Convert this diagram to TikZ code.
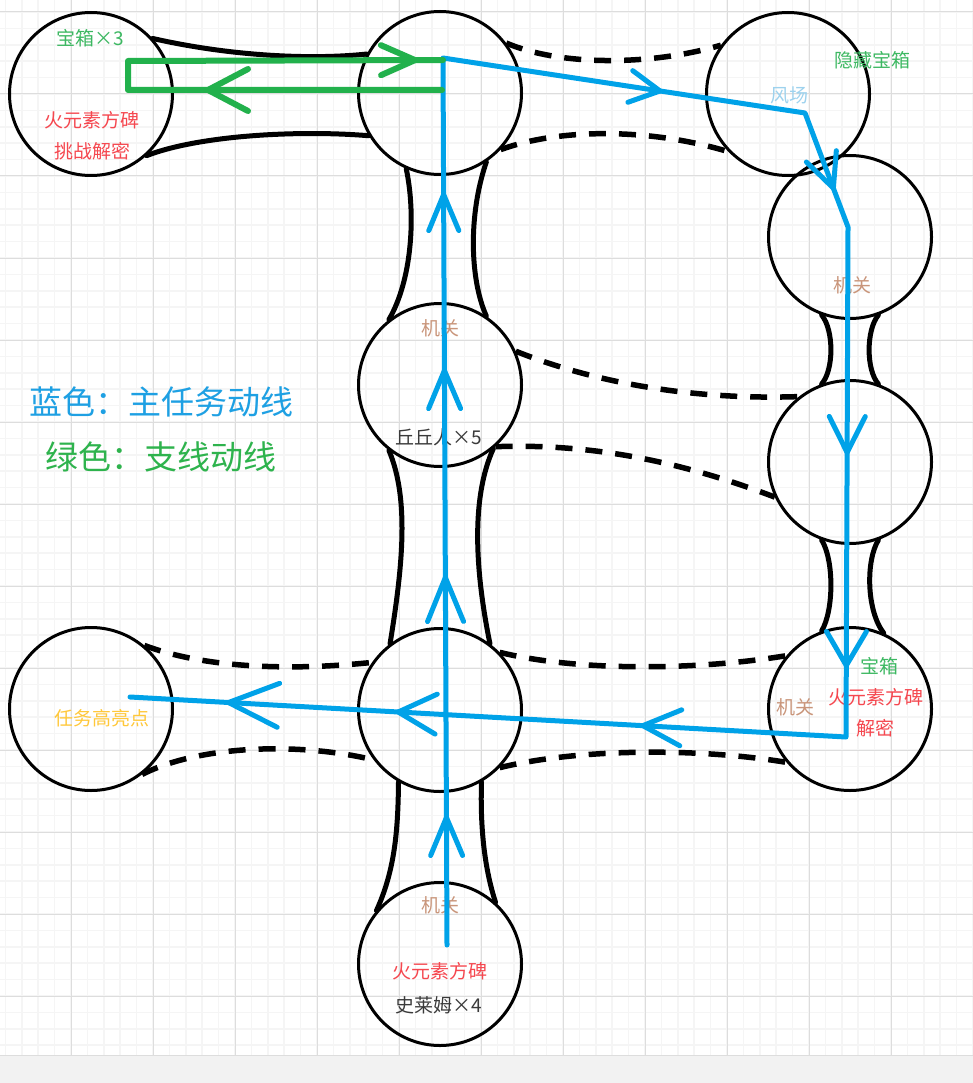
\documentclass[tikz,border=0pt]{standalone}
\usepackage{fontspec}
\newfontfamily\cjk{Noto Sans CJK SC}
\usetikzlibrary{arrows.meta,decorations.markings}
\definecolor{bl}{HTML}{00A2E8}
\definecolor{gr}{HTML}{22B14C}
\definecolor{tred}{HTML}{F5474F}
\definecolor{tgreen}{HTML}{3DB862}
\definecolor{tbrown}{HTML}{C9957A}
\definecolor{tsky}{HTML}{9DD2EE}
\definecolor{tdark}{HTML}{3A3A3A}
\definecolor{tyellow}{HTML}{FFC83A}
\definecolor{lblue}{HTML}{1EA0E3}
\definecolor{lgreen}{HTML}{2EB34D}
\definecolor{gmin}{HTML}{F5F5F5}
\definecolor{gmaj}{HTML}{DDDDDD}
\definecolor{band}{HTML}{F2F2F2}
\newcommand\rtip[2]{\arrow{Straight Barb[length=#1,width=#2,round]}}
\begin{document}
\begin{tikzpicture}[x=1pt,y=-1pt,
 place/.style={circle, draw=black, line width=3pt, minimum size=163pt, inner sep=0pt},
 waist/.style={line width=5pt, line cap=round},
 dashw/.style={line width=5.5pt, dash pattern=on 17pt off 13pt},
 lbl/.style={font=\cjk\fontsize{19}{19}\selectfont, inner sep=0pt},
 legend/.style={font=\cjk\fontsize{33}{33}\selectfont, inner sep=0pt},
 route/.style={line width=5pt, draw=bl, line cap=round, line join=round},
 side/.style={line width=6pt, draw=gr, line join=round, line cap=round},
]
\useasboundingbox (0,0) rectangle (973,1083);
% background grid
\fill[white] (0,0) rectangle (973,1083);
\foreach \i in {0,...,60} \draw[gmin, line width=1.5pt] ({-11+16.4*\i},0) -- ({-11+16.4*\i},1055);
\foreach \i in {0,...,64} \draw[gmin, line width=1.5pt] (0,{-4.4+16.4*\i}) -- (973,{-4.4+16.4*\i});
\foreach \i in {0,...,12} \draw[gmaj, line width=1pt] ({-11+82*\i},0) -- ({-11+82*\i},1055);
\foreach \i in {0,...,12} \draw[gmaj, line width=1pt] (0,{12+82*\i}) -- (973,{12+82*\i});
\fill[band] (0,1055) rectangle (973,1083);
\draw[gmaj, line width=1pt] (0,1055) -- (973,1055);

% places
\node[place] (A) at (91,94) {};
\node[place] (B) at (440,93) {};
\node[place] (C) at (788,94) {};
\node[place] (D) at (850,237) {};
\node[place] (E) at (440,385) {};
\node[place] (F) at (850,462) {};
\node[place] (G) at (440,710) {};
\node[place] (H) at (91,709) {};
\node[place] (I) at (850,709) {};
\node[place] (J) at (440,964) {};

% solid waists
\draw[waist] (A.42) .. controls (230,56) and (310,60) .. (B.152);
\draw[waist] (A.-48) .. controls (200,135) and (300,130) .. (B.-149);
\draw[waist] (B.-114) .. controls (416,215) and (412,280) .. (E.128);
\draw[waist] (B.-56) .. controls (468,215) and (470,280) .. (E.56);
\draw[waist] (D.-110) .. controls (834,330) and (834,370) .. (F.110);
\draw[waist] (D.-70) .. controls (866,330) and (866,370) .. (F.70);
\draw[waist] (E.-128) .. controls (410,500) and (402,570) .. (G.127);
\draw[waist] (E.-50) .. controls (470,500) and (476,575) .. (G.53);
\draw[waist] (F.-110) .. controls (834,560) and (834,610) .. (I.110);
\draw[waist] (F.-70) .. controls (866,560) and (866,610) .. (I.66);
\draw[waist] (G.-120) .. controls (398,830) and (395,870) .. (J.140);
\draw[waist] (G.-60) .. controls (480,830) and (485,870) .. (J.48);
% dashed waists
\draw[dashw] (B.37) .. controls (560,66) and (650,66) .. (C.144);
\draw[dashw] (B.-43) .. controls (560,128) and (650,128) .. (C.-136);
\draw[dashw] (E.24) .. controls (600,385) and (700,400) .. (F.128);
\draw[dashw] (E.-48) .. controls (600,443) and (690,465) .. (F.-155);
\draw[dashw] (H.50) .. controls (210,670) and (300,670) .. (G.145);
\draw[dashw] (H.-52) .. controls (200,745) and (300,742) .. (G.-143);
\draw[dashw] (G.44) .. controls (580,672) and (700,670) .. (I.140);
\draw[dashw] (G.-44) .. controls (580,748) and (700,748) .. (I.-140);

% labels
\node[lbl, text=tgreen] (a1) at (90,38) {宝箱×3};
\node[lbl, text=tred] (a2) at (92,120) {火元素方碑};
\node[lbl, text=tred] (a3) at (92,151) {挑战解密};
\node[lbl, text=tgreen] (c1) at (872,60) {隐藏宝箱};
\node[lbl, text=tsky] (c2) at (789,95) {风场};
\node[lbl, text=tbrown] (d1) at (852,285) {机关};
\node[lbl, text=tbrown] (e1) at (440,328) {机关};
\node[lbl, text=tdark] (e2) at (439,437) {丘丘人×5};
\node[lbl, text=tyellow] (h1) at (102,718) {任务高亮点};
\node[lbl, text=tgreen] (i1) at (879,666) {宝箱};
\node[lbl, text=tred] (i2) at (876,697) {火元素方碑};
\node[lbl, text=tred] (i3) at (875,728) {解密};
\node[lbl, text=tbrown] (i4) at (795,707) {机关};
\node[lbl, text=tbrown] (j1) at (440,905) {机关};
\node[lbl, text=tred] (j2) at (440,971) {火元素方碑};
\node[lbl, text=tdark] (j3) at (439,1005) {史莱姆×4};
\node[legend, text=lblue] (k1) at (161,402) {蓝色：主任务动线};
\node[legend, text=lgreen] (k2) at (161,457) {绿色：支线动线};

% main route (blue)
\coordinate (r0) at (447,945);
\coordinate (r1) at (443,58);
\coordinate (r2) at (805,113);
\coordinate (r3) at (848,227);
\coordinate (r4) at (846,737);
\coordinate (r5) at (130,697);
\draw[route, postaction={decorate}, decoration={markings,
  mark=at position 130pt with {\rtip{38pt}{32pt}},
  mark=at position 370pt with {\rtip{44pt}{36pt}},
  mark=at position 577pt with {\rtip{38pt}{32pt}},
  mark=at position 753pt with {\rtip{36pt}{30pt}},
  mark=at position 1109pt with {\rtip{30pt}{32pt}},
  mark=at position 1336pt with {\rtip{34pt}{32pt}},
  mark=at position 1603pt with {\rtip{36pt}{36pt}},
  mark=at position 1816pt with {\rtip{34pt}{40pt}},
  mark=at position 2091pt with {\rtip{38pt}{36pt}},
  mark=at position 2336pt with {\rtip{38pt}{40pt}},
  mark=at position 2506pt with {\rtip{50pt}{44pt}}}]
  (r0) -- (r1) -- (r2) -- (r3) -- (r4) -- (r5);

% side route (green)
\coordinate (s0) at (442,90);
\coordinate (s1) at (128,90);
\coordinate (s2) at (128,61);
\coordinate (s3) at (443,60);
\draw[side, postaction={decorate}, decoration={markings,
  mark=at position 237pt with {\rtip{40pt}{42pt}},
  mark=at position 633pt with {\rtip{34pt}{30pt}}}]
  (s0) -- (s1) -- (s2) -- (s3);
\end{tikzpicture}
\end{document}
